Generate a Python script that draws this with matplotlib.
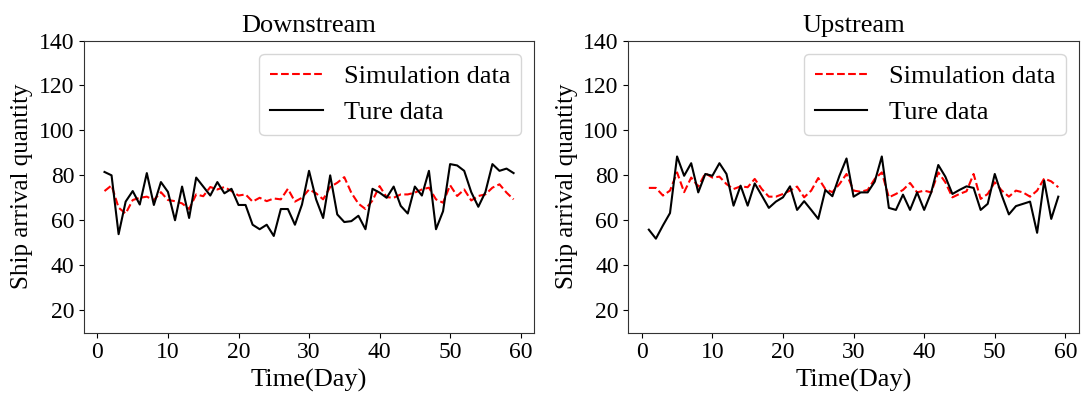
import numpy as np
import matplotlib
matplotlib.use('Agg')
import matplotlib.pyplot as plt

plt.rcParams['font.family'] = ['Liberation Serif', 'DejaVu Serif']
plt.rcParams['mathtext.fontset'] = 'stix'

# Jours 1..59
days = list(range(1, 60))

# Downstream
down_sim = [73, 75.5, 65.6, 63, 69, 70, 70.5, 69, 72.5, 69, 68.5, 67.5, 65, 71.5, 70.7,
            74.8, 73.7, 74.8, 73, 71, 71.5, 68.3, 70, 68.5, 69.7, 69.3, 74, 68.3, 70, 73.7,
            72, 69.3, 74.8, 76.7, 79.2, 72.2, 67.4, 65, 68.8, 75.2, 70.3, 70, 71.5, 71.5, 72.3,
            73.7, 74.5, 69.3, 67.8, 75.6, 70.8, 73.7, 68.8, 70.8, 71.5, 74.5, 76, 72.3, 69.3]
down_true = [81.5, 80, 53.8, 68.3, 73, 67, 81, 66.8, 77, 72.6, 60, 75, 61, 79, 75,
             71, 77, 72, 74, 66.8, 66.8, 58, 56, 58, 53, 65, 65, 58, 67, 82,
             69.3, 61, 80, 62.6, 59.2, 59.6, 62, 56, 74, 72.3, 70, 75, 66.4, 63, 75,
             71, 82, 56, 64, 85, 84.4, 82, 72.5, 66, 72.5, 85, 82, 83, 81]

# Upstream
up_sim = [74.4, 74.4, 71, 73.2, 81.3, 72.5, 79, 75, 80.9, 79, 79.4, 76.1, 73.9, 75.1, 74.7,
          78.4, 73.9, 70.5, 70.5, 71.7, 73.2, 75, 70.2, 73.2, 78.8, 73.9, 72.5, 76.1, 80.6, 73.2,
          72.7, 73.5, 78.4, 81.3, 70.2, 71.7, 73.5, 76.6, 72.4, 73.2, 72.4, 81.3, 76.9, 70.2, 71.7,
          72.9, 80.6, 69.5, 71.7, 76.9, 73.2, 70.5, 73.2, 72.4, 70.5, 73.2, 78.6, 77.3, 74.7]
up_true = [55.8, 51.8, 57.7, 63.2, 88.4, 79.8, 85.4, 72.4, 80.6, 79.8, 85.4, 80.6, 66.5, 75.4, 66.5,
           76.4, 71, 65.5, 68.3, 70.2, 75.1, 64.6, 68.5, 64.6, 60.6, 73.5, 70.7, 79.8, 87.5, 70.5,
           72.4, 72.4, 77.2, 88.4, 65.5, 64.6, 71.4, 64.6, 72.4, 64.6, 72.4, 84.6, 79.4, 71.7, 73.5,
           75.1, 74.4, 64.6, 67.3, 80.6, 71, 62.6, 66.3, 67.3, 68.3, 54.4, 77.6, 60.6, 70.5]

titles = ['Downstream', 'Upstream']
sim_series = [down_sim, up_sim]
true_series = [down_true, up_true]

fig = plt.figure(figsize=(10.83, 3.94), dpi=100)
ax1 = fig.add_axes([0.0776, 0.156, 0.4155, 0.741])
ax2 = fig.add_axes([0.5802, 0.156, 0.4159, 0.741])

for ax, title, sim, true in zip([ax1, ax2], titles, sim_series, true_series):
    ax.plot(days, sim, color='red', linestyle='--', linewidth=1.5, label='Simulation data')
    ax.plot(days, true, color='black', linewidth=1.5, label='Ture data')
    ax.set_ylim(10, 140)
    ax.set_yticks([20, 40, 60, 80, 100, 120, 140])
    ax.set_xticks([0, 10, 20, 30, 40, 50, 60])
    ax.tick_params(labelsize=17)
    ax.set_title(title, fontsize=19)
    ax.set_xlabel('Time(Day)', fontsize=19)
    ax.set_ylabel('Ship arrival quantity', fontsize=18)
    for s in ax.spines.values():
        s.set_color('#333333')
    ax.legend(loc='upper right', fontsize=19)

fig.savefig('out.png', dpi=100)
